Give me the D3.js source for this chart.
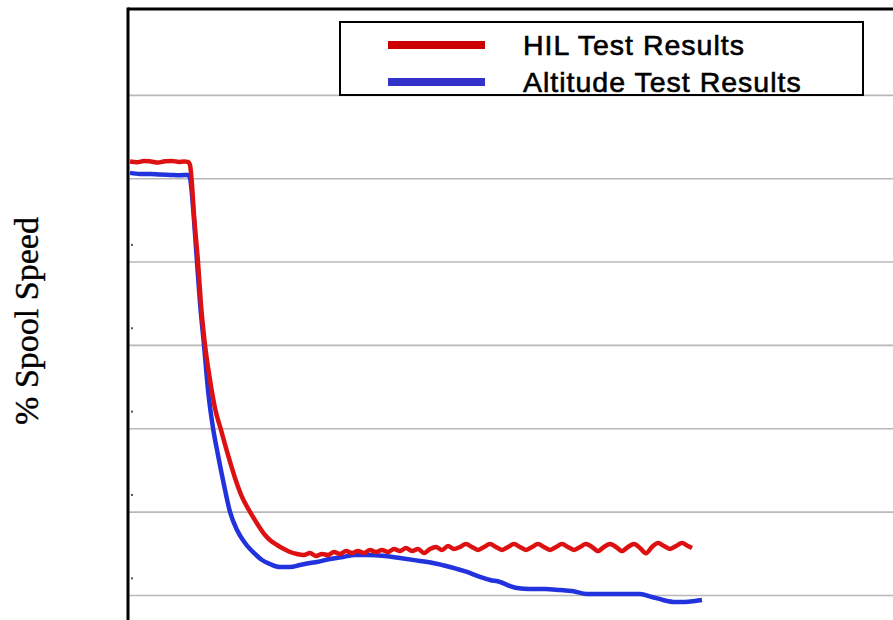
<!DOCTYPE html>
<html>
<head>
<meta charset="utf-8">
<script src="https://cdn.jsdelivr.net/npm/d3@7"></script>
<style>
  html, body { margin: 0; padding: 0; background: #fff; }
  svg { display: block; }
</style>
</head>
<body>
<svg id="chart" width="893" height="620"></svg>
<script>
// ---- data (time in s, % spool speed) ----
const hilTime = [0.2,0.9,1.6,2.3,3.0,3.7,4.4,5.1,5.6,6.0,
  6.2,6.4,6.6,7.0,7.3,7.7,8.2,8.7,9.3,10.0,10.7,11.4,12.2,13.0,13.7,14.3,14.9,15.6,16.2,16.9,17.6,
  18.2,18.8,19.4,20.0,20.6,21.2,21.8,22.4,23.0,23.6,24.2,24.8,25.4,26.0,26.6,27.2,27.8,28.4,29.0,
  29.6,30.2,30.8,31.4,32.0,32.6,33.2,33.8,34.4,35.0,35.6,36.2,36.8,37.4,38.0,38.6,39.2,39.8,40.4,
  41.0,41.6,42.2,42.8,43.4,44.0,44.6,45.2,45.8,46.4,47.0,47.6,48.2,48.8,49.4,50.0,50.6,51.2,51.8,
  52.4,53.0,53.6,54.2,54.8,55.4,56.0,56.4];
const hilSpeed = [96.0,95.96,96.04,96.0,95.94,96.02,96.04,95.98,96.0,95.98,
  95.8,94.6,92.8,89.98,87.4,85.0,82.9,81.2,79.9,78.4,77.02,75.88,74.98,74.2,73.6,73.24,73.0,72.76,72.58,72.46,72.4,
  72.52,72.34,72.46,72.4,72.58,72.46,72.64,72.52,72.64,72.52,72.7,72.58,72.7,72.58,72.76,72.64,72.82,72.64,72.76,
  72.52,72.76,72.88,72.7,72.94,72.76,72.88,73.06,72.88,72.7,72.88,73.06,72.88,72.7,72.88,73.06,72.88,72.7,72.88,
  73.06,72.88,72.7,72.88,73.06,72.88,72.7,72.88,73.06,72.88,72.64,72.88,73.06,72.88,72.64,72.88,73.06,72.82,72.5,
  72.88,73.12,72.94,72.76,72.94,73.12,72.94,72.82];

const altTime = [0.2,1.2,2.2,3.2,4.2,5.2,6.0,
  6.2,6.4,6.6,6.9,7.2,7.6,8.0,8.5,9.0,9.6,10.2,10.9,11.7,12.7,13.4,14.2,15.2,16.2,17.2,18.2,18.9,
  20.2,21.5,22.7,23.9,25.7,27.2,29.2,30.5,32.2,33.9,35.2,36.2,37.2,38.2,38.9,40.2,41.7,43.2,44.4,
  45.9,47.7,49.7,51.2,52.4,53.5,54.7,55.7,56.7,57.4];
const altSpeed = [95.32,95.26,95.26,95.22,95.2,95.18,95.2,
  95.02,94.0,92.5,89.98,87.52,85.0,82.3,80.02,78.4,76.6,74.98,73.9,73.12,72.46,72.1,71.86,71.68,71.68,71.8,71.92,71.98,
  72.16,72.28,72.4,72.4,72.34,72.22,72.04,71.92,71.68,71.38,71.08,70.9,70.78,70.54,70.42,70.36,70.36,70.3,70.24,
  70.06,70.06,70.06,70.06,69.88,69.7,69.58,69.58,69.64,69.7];

const gridValues = [70, 75, 80, 85, 90, 95, 100];
const minorTickValues = [71, 76, 81, 86, 91, 96];
const seriesNames = ["HIL Test Results", "Altitude Test Results"];
const yAxisTitle = "% Spool Speed";

// ---- layout ----
const svg = d3.select("#chart");
const pLeft = 128, pRight = 893, pTop = 9, pBottom = 620;
const x = d3.scaleLinear().domain([0, 76.5]).range([pLeft, pRight]);
const y = d3.scaleLinear().domain([68.5, 105.15]).range([pBottom, pTop]);

// gridlines
svg.append("g")
  .attr("transform", `translate(${pLeft},0)`)
  .call(d3.axisLeft(y).tickValues(gridValues).tickSize(-(pRight - pLeft)).tickFormat(""))
  .call(g => g.select(".domain").remove())
  .call(g => g.selectAll("line").attr("stroke", "#b8b8b8").attr("stroke-width", 1.6));

// minor dots
svg.append("g").selectAll("rect").data(minorTickValues).join("rect")
  .attr("x", pLeft + 3).attr("y", d => y(d) - 1).attr("width", 2).attr("height", 2)
  .attr("fill", "#555");

// series
const line = d3.line().x(d => x(d[0])).y(d => y(d[1])).curve(d3.curveMonotoneX);
const hil = hilTime.map((t, i) => [t, hilSpeed[i]]);
const alt = altTime.map((t, i) => [t, altSpeed[i]]);

svg.append("path").datum(alt).attr("d", line)
  .attr("fill", "none").attr("stroke", "#2233dd").attr("stroke-width", 4.5)
  .attr("stroke-linejoin", "round");
svg.append("path").datum(hil).attr("d", line)
  .attr("fill", "none").attr("stroke", "#dd1111").attr("stroke-width", 4.5)
  .attr("stroke-linejoin", "round");

// frame (left axis + top border)
svg.append("line").attr("x1", pLeft).attr("x2", pLeft).attr("y1", pTop - 1.5).attr("y2", pBottom)
  .attr("stroke", "#000").attr("stroke-width", 3);
svg.append("line").attr("x1", pLeft).attr("x2", pRight).attr("y1", pTop).attr("y2", pTop)
  .attr("stroke", "#000").attr("stroke-width", 3);

// legend
const lg = svg.append("g");
lg.append("rect").attr("x", 340).attr("y", 22).attr("width", 523).attr("height", 73)
  .attr("fill", "#fff").attr("stroke", "#000").attr("stroke-width", 2);
const legendColors = ["#cc0000", "#3333cc"];
seriesNames.forEach((name, i) => {
  const cy = 45 + i * 37;
  lg.append("line").attr("x1", 388).attr("x2", 485).attr("y1", cy).attr("y2", cy)
    .attr("stroke", legendColors[i]).attr("stroke-width", 8);
  lg.append("text").attr("x", 523).attr("y", cy + 10)
    .attr("font-family", "Liberation Sans, Arial, sans-serif")
    .attr("font-size", 28.5).attr("letter-spacing", 1)
    .attr("fill", "#000").attr("stroke", "#000").attr("stroke-width", 0.6)
    .text(name);
});

// y axis title
svg.append("text")
  .attr("transform", "translate(38,321) rotate(-90)")
  .attr("text-anchor", "middle")
  .attr("font-family", "Liberation Serif, Times New Roman, serif")
  .attr("font-size", 34)
  .attr("fill", "#000").attr("stroke", "#000").attr("stroke-width", 0.4)
  .text(yAxisTitle);
</script>
</body>
</html>
